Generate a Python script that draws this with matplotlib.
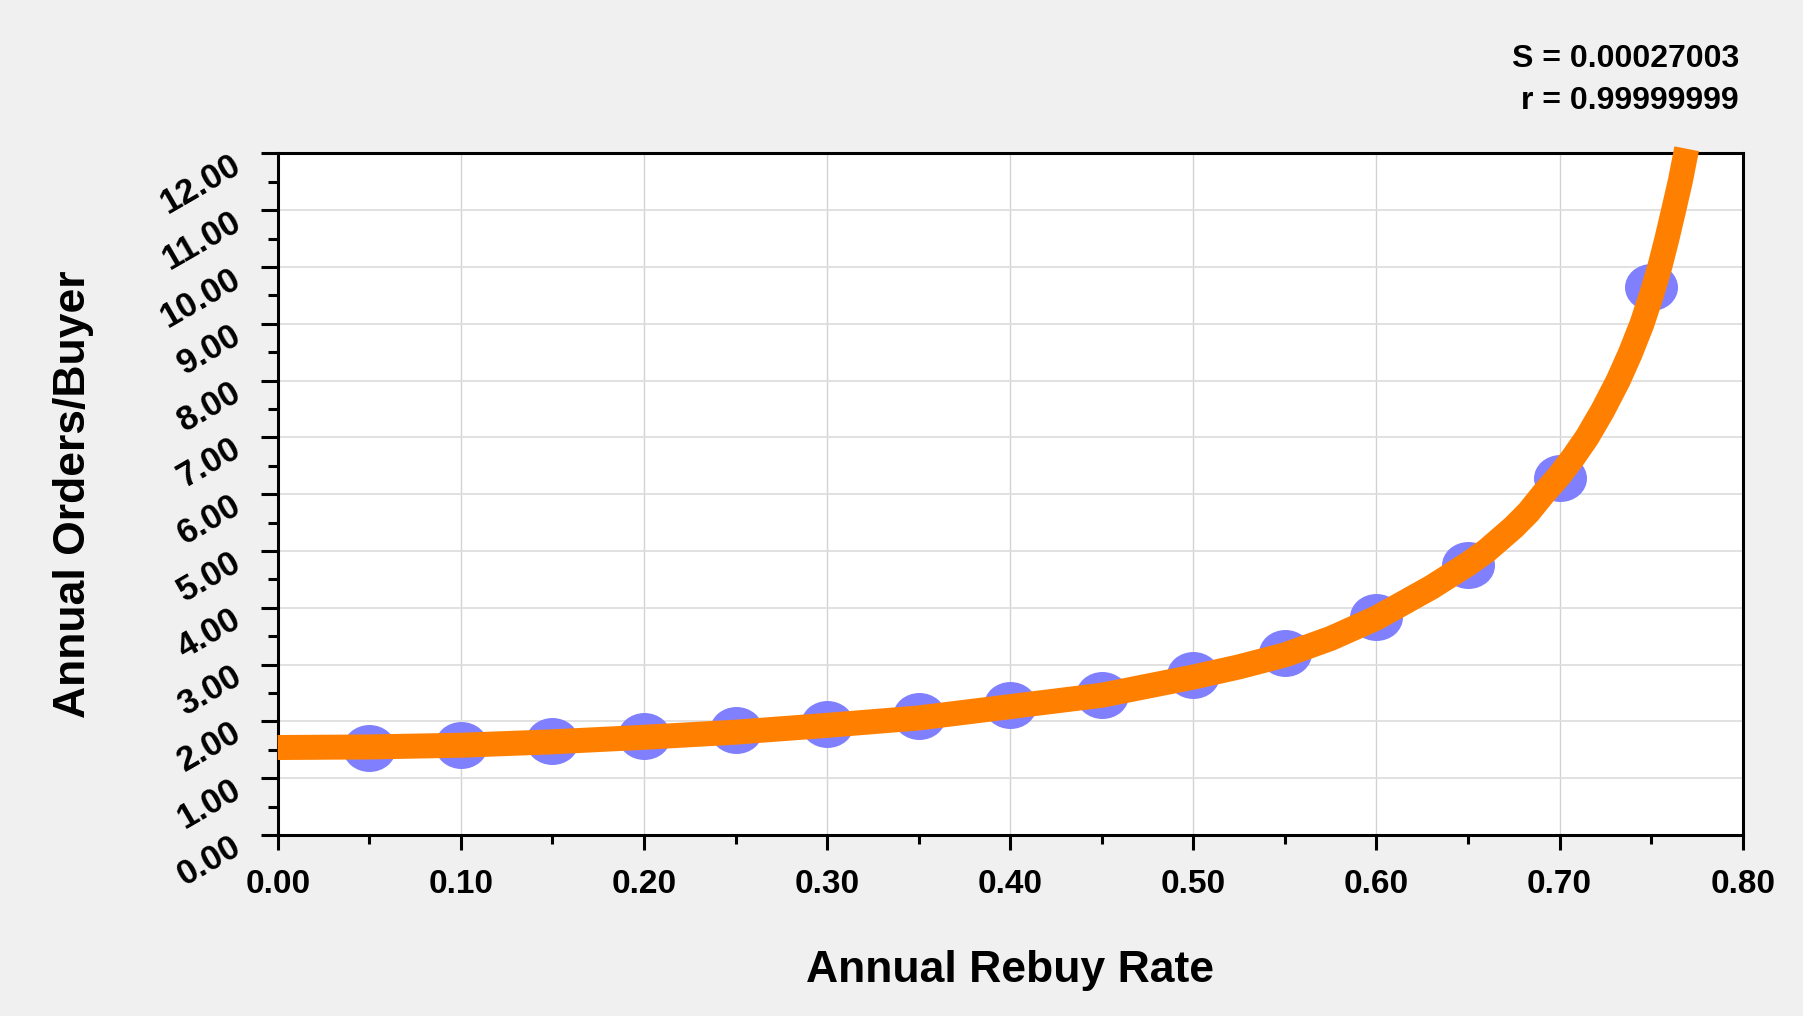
import matplotlib
matplotlib.use("Agg")
import matplotlib.pyplot as plt
from matplotlib.path import Path
from matplotlib.transforms import Affine2D, ScaledTranslation
from matplotlib.ticker import MultipleLocator, FormatStrFormatter

plt.rcParams['font.family'] = ['Liberation Sans', 'DejaVu Sans']

# Data points (Annual Rebuy Rate vs Annual Orders/Buyer)
rebuy_rate = [0.05, 0.10, 0.15, 0.20, 0.25, 0.30, 0.35, 0.40, 0.45, 0.50,
              0.55, 0.60, 0.65, 0.70, 0.75]
orders_per_buyer = [1.54, 1.59, 1.65, 1.74, 1.84, 1.95, 2.10, 2.28, 2.47, 2.82,
                    3.20, 3.83, 4.76, 6.28, 9.64]

# Fitted curve
fit_x = [0.00, 0.05, 0.10, 0.15, 0.20, 0.25, 0.30, 0.35, 0.40, 0.45, 0.50,
         0.525, 0.55, 0.575, 0.60, 0.61, 0.63, 0.65, 0.66, 0.675, 0.683,
         0.691, 0.70, 0.7075, 0.715, 0.7235, 0.732, 0.7385, 0.745, 0.750,
         0.7547, 0.7585, 0.7623, 0.766, 0.7694]
fit_y = [1.54, 1.55, 1.58, 1.64, 1.72, 1.81, 1.93, 2.06, 2.26, 2.46, 2.78,
         2.96, 3.17, 3.46, 3.82, 4.00, 4.36, 4.77, 5.00, 5.42, 5.68,
         6.00, 6.33, 6.65, 7.00, 7.47, 8.00, 8.47, 9.00, 9.49,
         10.00, 10.48, 11.00, 11.52, 12.08]

fit_stats = ["S = 0.00027003", "r = 0.99999999"]

W, H, DPI = 1803, 1016, 100
fig = plt.figure(figsize=(W / DPI, H / DPI), dpi=DPI, facecolor='#F0F0F0')
ax = fig.add_axes([277.7 / W, 1 - 835 / H, (1742.7 - 277.7) / W, (835 - 153.3) / H])
ax.set_facecolor('white')

ellipse = Path.unit_circle().transformed(Affine2D().scale(1.128, 1.0))
ax.plot(rebuy_rate, orders_per_buyer, linestyle='none', marker=ellipse,
        markersize=53 * 0.72, markerfacecolor='#8080FF', markeredgewidth=0,
        zorder=3, clip_on=False)
ax.plot(fit_x, fit_y, color='#FF8000', linewidth=25 * 0.72,
        solid_capstyle='butt', solid_joinstyle='round', zorder=4, clip_on=False)

ax.set_xlim(0, 0.8)
ax.set_ylim(0, 12)
ax.xaxis.set_major_locator(MultipleLocator(0.1))
ax.xaxis.set_minor_locator(MultipleLocator(0.05))
ax.yaxis.set_major_locator(MultipleLocator(1.0))
ax.yaxis.set_minor_locator(MultipleLocator(0.5))
ax.xaxis.set_major_formatter(FormatStrFormatter('%.2f'))
ax.yaxis.set_major_formatter(FormatStrFormatter('%.2f'))

ax.grid(True, axis='x', which='major', color='#D2D2D2', linewidth=1.0, zorder=0)
ax.grid(True, axis='y', which='major', color='#DEDEDE', linewidth=1.3, zorder=0)
ax.set_axisbelow(True)

for s in ax.spines.values():
    s.set_linewidth(2.2)
    s.set_color('black')

ax.tick_params(axis='both', which='major', direction='out', width=2.2, color='black')
ax.tick_params(axis='x', which='major', length=15 * 0.72, pad=14, labelsize=24)
ax.tick_params(axis='x', which='minor', length=9 * 0.72, width=2.2, direction='out')
ax.tick_params(axis='y', which='major', length=17 * 0.72, pad=16, labelsize=25)
ax.tick_params(axis='y', which='minor', length=10 * 0.72, width=2.2, direction='out')

for lab in ax.get_xticklabels():
    lab.set_fontweight('bold')
shift = ScaledTranslation(0, -9 / DPI, fig.dpi_scale_trans)
for lab in ax.get_yticklabels():
    lab.set_fontweight('bold')
    lab.set_rotation(30)
    lab.set_rotation_mode('anchor')
    lab.set_ha('right')
    lab.set_va('center')
    lab.set_transform(lab.get_transform() + shift)

ax.set_xlabel('Annual Rebuy Rate', fontsize=32, fontweight='bold', labelpad=36)
ax.set_ylabel('Annual Orders/Buyer', fontsize=32, fontweight='bold', labelpad=44)

fig.text(1739 / W, 1 - 66.7 / H, fit_stats[0], ha='right', va='baseline',
         fontsize=23, fontweight='bold')
fig.text(1739 / W, 1 - 109.3 / H, fit_stats[1], ha='right', va='baseline',
         fontsize=23, fontweight='bold')

fig.savefig('out.png', dpi=DPI, facecolor=fig.get_facecolor())
